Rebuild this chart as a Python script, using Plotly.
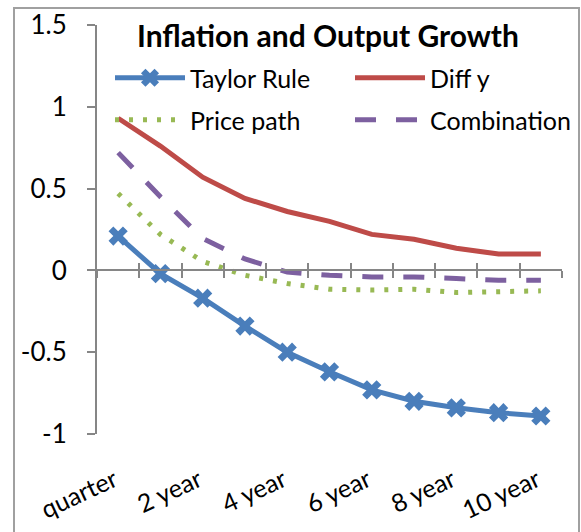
import plotly.graph_objects as go

categories = ["quarter", "1 year", "2 year", "3 year", "4 year", "5 year",
              "6 year", "7 year", "8 year", "9 year", "10 year"]
taylor_rule = [0.21, -0.02, -0.17, -0.34, -0.50, -0.62, -0.73, -0.80, -0.84, -0.87, -0.89]
diff_y = [0.93, 0.76, 0.57, 0.44, 0.36, 0.30, 0.22, 0.19, 0.135, 0.10, 0.10]
price_path = [0.47, 0.22, 0.055, -0.03, -0.08, -0.115, -0.12, -0.115, -0.135, -0.13, -0.125]
combination = [0.72, 0.45, 0.195, 0.07, -0.01, -0.03, -0.04, -0.04, -0.05, -0.06, -0.06]
x_tick_labels = ["quarter", "2 year", "4 year", "6 year", "8 year", "10 year"]
y_tick_values = [-1, -0.5, 0, 0.5, 1, 1.5]
y_tick_labels = ["-1", "-0.5", "0", "0.5", "1", "1.5"]
boundaries = [i - 0.5 for i in range(len(categories) + 1)]

FONT = "Lato"
AXIS_GRAY = "#868686"

fig = go.Figure()
fig.add_trace(go.Scatter(x=categories, y=taylor_rule, name="Taylor Rule", mode="lines+markers",
                         line=dict(color="#4A7EBB", width=5),
                         marker=dict(symbol="x", size=17, color="#4A7EBB"), legend="legend"))
fig.add_trace(go.Scatter(x=categories, y=diff_y, name="Diff y", mode="lines",
                         line=dict(color="#BE4B48", width=5), legend="legend2"))
fig.add_trace(go.Scatter(x=categories, y=price_path, name="Price path", mode="lines",
                         line=dict(color="#98B954", width=5, dash="4px,10px"), legend="legend3"))
fig.add_trace(go.Scatter(x=categories, y=combination, name="Combination", mode="lines",
                         line=dict(color="#7D60A0", width=5, dash="21px,20px"), legend="legend4"))
# helper traces registering the zero-crossing axes (no data)
fig.add_trace(go.Scatter(x=[], y=[], xaxis="x2", showlegend=False, hoverinfo="skip"))
fig.add_trace(go.Scatter(x=[], y=[], xaxis="x3", showlegend=False, hoverinfo="skip"))

W, H = 581, 532
L, R, T, B = 97, 19, 25, 98
pw, ph = W - L - R, H - T - B
zero_pos = (0 - (-1)) / 2.5


def legend_cfg(left_px, center_px):
    return dict(orientation="h", x=(left_px - L) / pw, xanchor="left",
                y=1 - (center_px - T) / ph, yanchor="middle", itemwidth=70,
                font=dict(family=FONT, size=25, color="black"), bgcolor="rgba(0,0,0,0)",
                itemclick=False, itemdoubleclick=False)


fig.update_layout(
    width=W, height=H,
    margin=dict(l=L, r=R, t=T, b=B, pad=0, autoexpand=False),
    paper_bgcolor="white", plot_bgcolor="white",
    font=dict(family=FONT, size=24, color="black"),
    title=dict(text="<b>Inflation and Output Growth</b>", x=(328 - L) / pw, xanchor="center",
               xref="paper", y=1 - 26 / H, yanchor="top", yref="container",
               font=dict(family=FONT, size=30, color="black")),
    showlegend=True,
    legend=legend_cfg(110, 78),
    legend2=legend_cfg(350, 78),
    legend3=legend_cfg(110, 120),
    legend4=legend_cfg(350, 120),
    xaxis=dict(type="category", categoryorder="array", categoryarray=categories,
               range=[-0.5, len(categories) - 0.5], automargin=False,
               tickmode="array", tickvals=x_tick_labels, ticktext=x_tick_labels,
               tickangle=-25, showline=False, ticks="", showgrid=False, zeroline=False,
               ticklabelstandoff=26, ticklabelshift=-4,
               tickfont=dict(family=FONT, size=25, color="black")),
    xaxis2=dict(overlaying="x", anchor="free", position=zero_pos, range=[boundaries[0], boundaries[-1]],
                tickmode="array", tickvals=boundaries, showticklabels=False, automargin=False,
                ticks="outside", ticklen=7, tickwidth=2, tickcolor=AXIS_GRAY,
                showline=True, linecolor=AXIS_GRAY, linewidth=2, showgrid=False, zeroline=False),
    xaxis3=dict(overlaying="x", anchor="free", position=zero_pos, range=[boundaries[0], boundaries[-1]],
                tickmode="array", tickvals=boundaries, showticklabels=False, automargin=False,
                ticks="inside", ticklen=7, tickwidth=2, tickcolor=AXIS_GRAY,
                showline=False, showgrid=False, zeroline=False),
    yaxis=dict(range=[-1, 1.5], tickmode="array", tickvals=y_tick_values, ticktext=y_tick_labels,
               ticks="outside", ticklen=8, tickwidth=2, tickcolor=AXIS_GRAY, automargin=False,
               showline=True, linecolor=AXIS_GRAY, linewidth=2, showgrid=False, zeroline=False,
               ticklabelstandoff=15, tickfont=dict(family=FONT, size=26, color="black")),
)

# chart-area border
fig.add_shape(type="rect", xref="paper", yref="paper",
              x0=(14 - L) / pw, x1=(579 - L) / pw, y0=-(560 - T - ph) / ph, y1=1 + (T - 8) / ph,
              line=dict(color="#A0A0A0", width=2), fillcolor="rgba(0,0,0,0)", layer="below")

fig.write_html("out.html", config={"displayModeBar": False},
               post_script="document.body.style.margin='0';document.body.style.overflow='hidden';")
